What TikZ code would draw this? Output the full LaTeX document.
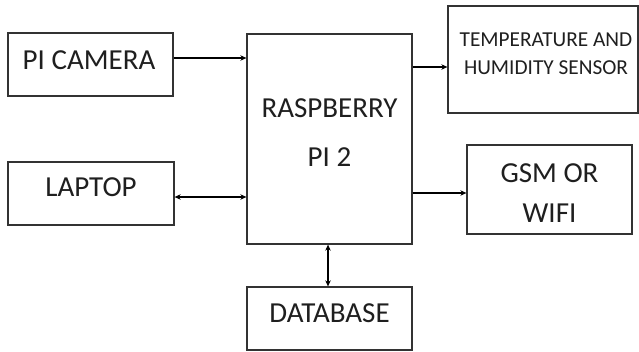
\documentclass[tikz,border=0pt]{standalone}
\usepackage{fontspec}
\setmainfont{Carlito}
\usetikzlibrary{arrows.meta}
\begin{document}
\begin{tikzpicture}[x=1pt,y=-1pt,
  blk/.style={draw=black!80,line width=1.3pt,inner sep=0pt,minimum width=165pt},
  big/.style={font=\fontsize{29}{49}\selectfont,text=black!88,align=center},
  small/.style={font=\fontsize{21.3}{28}\selectfont,text=black!88,align=center},
  arr/.style={line width=1.6pt,-{Stealth[length=6pt,width=5.5pt]}},
  darr/.style={line width=1.6pt,{Stealth[length=6pt,width=5.5pt]}-{Stealth[length=6pt,width=5.5pt]}}]
\useasboundingbox[fill=white] (0,0) rectangle (639,351);
\node[blk,minimum height=63pt] (cam) at (90.5,64.5) {};
\node[big] (camt) at (89,60) {PI CAMERA};
\node[blk,minimum height=210pt] (rpi) at (329.5,139) {};
\node[big] (rpit) at (329.5,132.5) {RASPBERRY\\PI 2};
\node[blk,minimum width=190pt,minimum height=107pt] (temp) at (543,59.5) {};
\node[small] (tempt) at (546,54) {TEMPERATURE AND\\HUMIDITY SENSOR};
\node[blk,minimum height=89pt] (gsm) at (549.5,189.5) {};
\node[big,font=\fontsize{29}{40}\selectfont] (gsmt) at (549.5,193) {GSM OR\\WIFI};
\node[blk,minimum width=166pt,minimum height=63pt] (lap) at (91,193.5) {};
\node[big] (lapt) at (91,187) {LAPTOP};
\node[blk,minimum height=63pt] (db) at (329.5,318.5) {};
\node[big] (dbt) at (329.5,313) {DATABASE};
\draw[arr] ([yshift=6.5pt]cam.east) -- ([yshift=6.5pt]cam.east -| rpi.west);
\draw[arr] ([yshift=-7.5pt]temp.west -| rpi.east) -- ([yshift=-7.5pt]temp.west);
\draw[arr] ([yshift=-3.5pt]gsm.west -| rpi.east) -- ([yshift=-3.5pt]gsm.west);
\draw[darr] ([yshift=-3.5pt]lap.east) -- ([yshift=-3.5pt]lap.east -| rpi.west);
\draw[darr] ([xshift=-1.5pt]rpi.south) -- ([xshift=-1.5pt]db.north);
\end{tikzpicture}
\end{document}
